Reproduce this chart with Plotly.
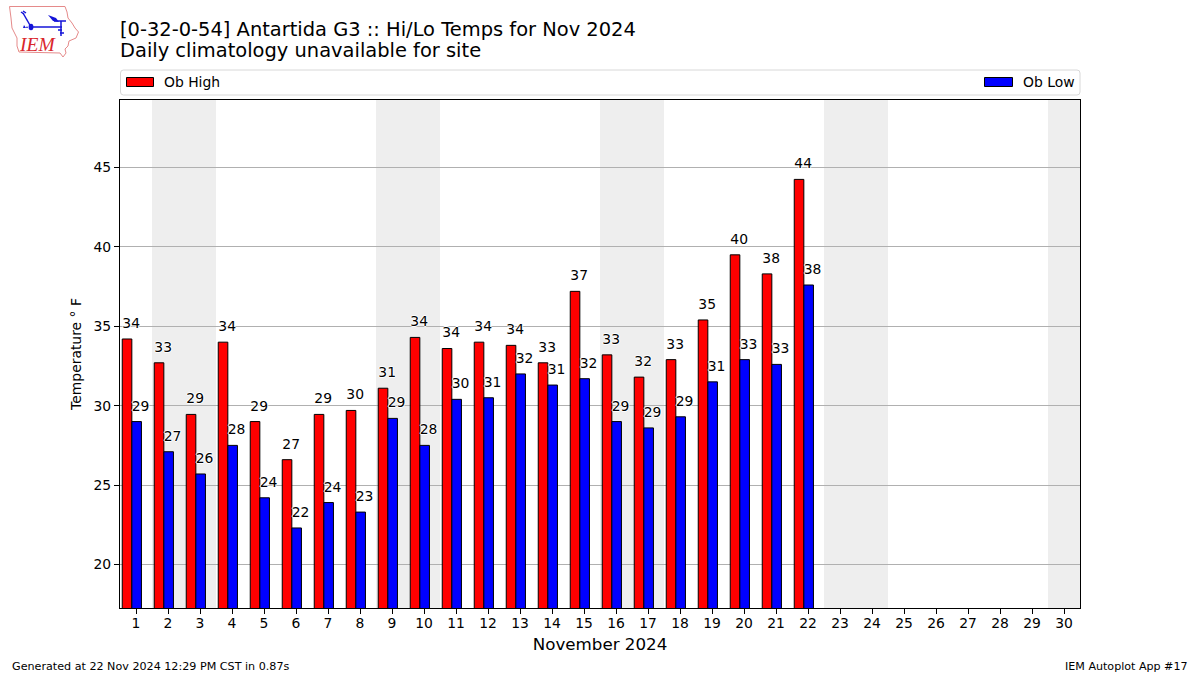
import base64
import plotly.graph_objects as go

days = list(range(1, 23))
all_days = list(range(1, 31))
high = [34.2, 32.7, 29.45, 34.0, 29.0, 26.6, 29.45, 29.7, 31.1, 34.3, 33.6, 34.0, 33.8, 32.7, 37.2, 33.2, 31.8, 32.9, 35.4, 39.5, 38.3, 44.25]
low = [29.0, 27.1, 25.7, 27.5, 24.2, 22.3, 23.9, 23.3, 29.2, 27.5, 30.4, 30.5, 32.0, 31.3, 31.7, 29.0, 28.6, 29.3, 31.5, 32.9, 32.6, 37.6]
high_labels = [34, 33, 29, 34, 29, 27, 29, 30, 31, 34, 34, 34, 34, 33, 37, 33, 32, 33, 35, 40, 38, 44]
low_labels = [29, 27, 26, 28, 24, 22, 24, 23, 29, 28, 30, 31, 32, 31, 32, 29, 29, 29, 31, 33, 33, 38]
weekends = [(1.5, 3.5), (8.5, 10.5), (15.5, 17.5), (22.5, 24.5), (29.5, 30.5)]
y_ticks = [20, 25, 30, 35, 40, 45]

W, H = 1200, 675
L, R, T, B = 120, 1080, 100, 608
FONT = "DejaVu Sans"

def px(x):
    return (x - L) / (R - L)

def py(y):
    return (B - y) / (B - T)

halo = "1px 0 0 #fff, -1px 0 0 #fff, 0 1px 0 #fff, 0 -1px 0 #fff"
hidden_marker = dict(size=10.5, color="rgba(0,0,0,0)", line=dict(width=0))

fig = go.Figure()
fig.add_bar(x=days, y=high, name="Ob High", width=0.3, offset=-0.43,
            marker=dict(color="#ff0000", line=dict(color="black", width=1)), showlegend=False)
fig.add_bar(x=days, y=low, name="Ob Low", width=0.3, offset=-0.13,
            marker=dict(color="#0000ff", line=dict(color="black", width=1)), showlegend=False)
fig.add_scatter(x=[d - 0.15 for d in days], y=high, mode="markers+text", text=high_labels,
                textposition="top center", showlegend=False, cliponaxis=False, marker=hidden_marker,
                textfont=dict(family=FONT, size=13.9, color="black", shadow=halo))
fig.add_scatter(x=[d + 0.14 for d in days], y=low, mode="markers+text", text=low_labels,
                textposition="top center", showlegend=False, cliponaxis=False, marker=hidden_marker,
                textfont=dict(family=FONT, size=13.9, color="black", shadow=halo))

shapes = [dict(type="rect", xref="x", yref="paper", x0=a, x1=b, y0=0, y1=1,
               fillcolor="#eeeeee", line_width=0, layer="below") for a, b in weekends]

# legend frame (rounded) and swatches
lx0, lx1, ly0, ly1, r = 120.5, 1080, 70, 95, 3
frame = (f"M {px(lx0 + r)} {py(ly0)} L {px(lx1 - r)} {py(ly0)} Q {px(lx1)} {py(ly0)} {px(lx1)} {py(ly0 + r)} "
         f"L {px(lx1)} {py(ly1 - r)} Q {px(lx1)} {py(ly1)} {px(lx1 - r)} {py(ly1)} "
         f"L {px(lx0 + r)} {py(ly1)} Q {px(lx0)} {py(ly1)} {px(lx0)} {py(ly1 - r)} "
         f"L {px(lx0)} {py(ly0 + r)} Q {px(lx0)} {py(ly0)} {px(lx0 + r)} {py(ly0)} Z")
shapes.append(dict(type="path", xref="paper", yref="paper", path=frame,
                   line=dict(color="#d8d8d8", width=1), fillcolor="white"))
shapes.append(dict(type="rect", xref="paper", yref="paper", x0=px(126.5), x1=px(153.5),
                   y0=py(86.5), y1=py(77.5), line=dict(color="black", width=1), fillcolor="#ff0000"))
shapes.append(dict(type="rect", xref="paper", yref="paper", x0=px(984.5), x1=px(1012.5),
                   y0=py(86.5), y1=py(77.5), line=dict(color="black", width=1), fillcolor="#0000ff"))

def note(x, y, text, size, anchor="left", color="black", family=FONT, **kw):
    return dict(xref="paper", yref="paper", x=px(x), y=py(y), text=text, showarrow=False,
                xanchor=anchor, yanchor="middle", font=dict(family=family, size=size, color=color),
                borderpad=0, borderwidth=0, **kw)

annotations = [
    note(119.5, 50.5, "Daily climatology unavailable for site", 19.45),
    note(164, 81.5, "Ob High", 13.9),
    note(1023, 81.5, "Ob Low", 13.9),
    note(11.5, 666, "Generated at 22 Nov 2024 12:29 PM CST in 0.87s", 11.15),
    note(1188, 666, "IEM Autoplot App #17", 11.1, anchor="right"),
    note(37.5, 45, "<i>IEM</i>", 19.5, anchor="center", color="#d9262c", family="Liberation Serif"),
]

logo_svg = """<svg xmlns='http://www.w3.org/2000/svg' width='80' height='60' viewBox='0 0 80 60'>
<path d='M9.5 6.5 L65 6.5 L67 12 L68 18 L72 23 L75 28 L78.5 32 L76 38 L69 41 L68 46 L65 49 L66 53 L63 57 L60 53 L19 52 L17 46 L17 38 L12 28 L11 18 Z'
 fill='none' stroke='#e58a8a' stroke-width='1'/>
<g fill='none' stroke='#1414d8' stroke-width='1.5'>
<path d='M31 27 L62 27'/><path d='M31 27 L23 13'/><path d='M21 12 L24 14 M23 11 L26 13'/>
<path d='M54 21 L66 21'/><path d='M61 21 L61 36'/><path d='M58 30 L62 30 M60 33 L64 33'/>
</g>
<path d='M48 15 L56 18 L59 22 L53 21 Z' fill='#1414d8'/>
<ellipse cx='31' cy='27' rx='2.4' ry='3.2' fill='#1414d8'/>
<path d='M24 25 L26 28 L23 28 Z M27 26 L28 28 L26 28 Z' fill='#1414d8'/>
</svg>"""
logo_uri = "data:image/svg+xml;base64," + base64.b64encode(logo_svg.encode()).decode()

fig.update_layout(
    width=W, height=H, autosize=False,
    margin=dict(l=L, r=W - R, t=T, b=H - B, pad=0),
    paper_bgcolor="white", plot_bgcolor="white",
    barmode="overlay", showlegend=False,
    font=dict(family=FONT, size=13.9, color="black"),
    title=dict(text="[0-32-0-54] Antartida G3 :: Hi/Lo Temps for Nov 2024",
               x=120 / W, xanchor="left", xref="container",
               y=1 - 29 / H, yanchor="middle", yref="container",
               font=dict(family=FONT, size=19.45, color="black")),
    xaxis=dict(range=[0.5, 30.5], tickmode="array", tickvals=all_days, ticktext=[str(d) for d in all_days],
               showgrid=False, zeroline=False, showline=True, linecolor="black", linewidth=1, mirror=True,
               ticks="outside", ticklen=5, tickcolor="black", tickwidth=1, ticklabelstandoff=-3,
               title=dict(text="November 2024", font=dict(family=FONT, size=16.7), standoff=8)),
    yaxis=dict(range=[17.26, 49.25], tickmode="array", tickvals=y_ticks,
               showgrid=True, gridcolor="#b0b0b0", gridwidth=1, zeroline=False,
               showline=True, linecolor="black", linewidth=1, mirror=True,
               ticks="outside", ticklen=5, tickcolor="black", tickwidth=1,
               title=dict(text="Temperature ° F", font=dict(family=FONT, size=13.9), standoff=8)),
    shapes=shapes,
    annotations=annotations,
    images=[dict(source=logo_uri, xref="paper", yref="paper", x=px(0), y=py(0),
                 sizex=80 / (R - L), sizey=60 / (B - T), xanchor="left", yanchor="top",
                 sizing="stretch", layer="above")],
)

fig.write_html("out.html", config=dict(displayModeBar=False),
               post_script="document.body.style.margin='0';")
